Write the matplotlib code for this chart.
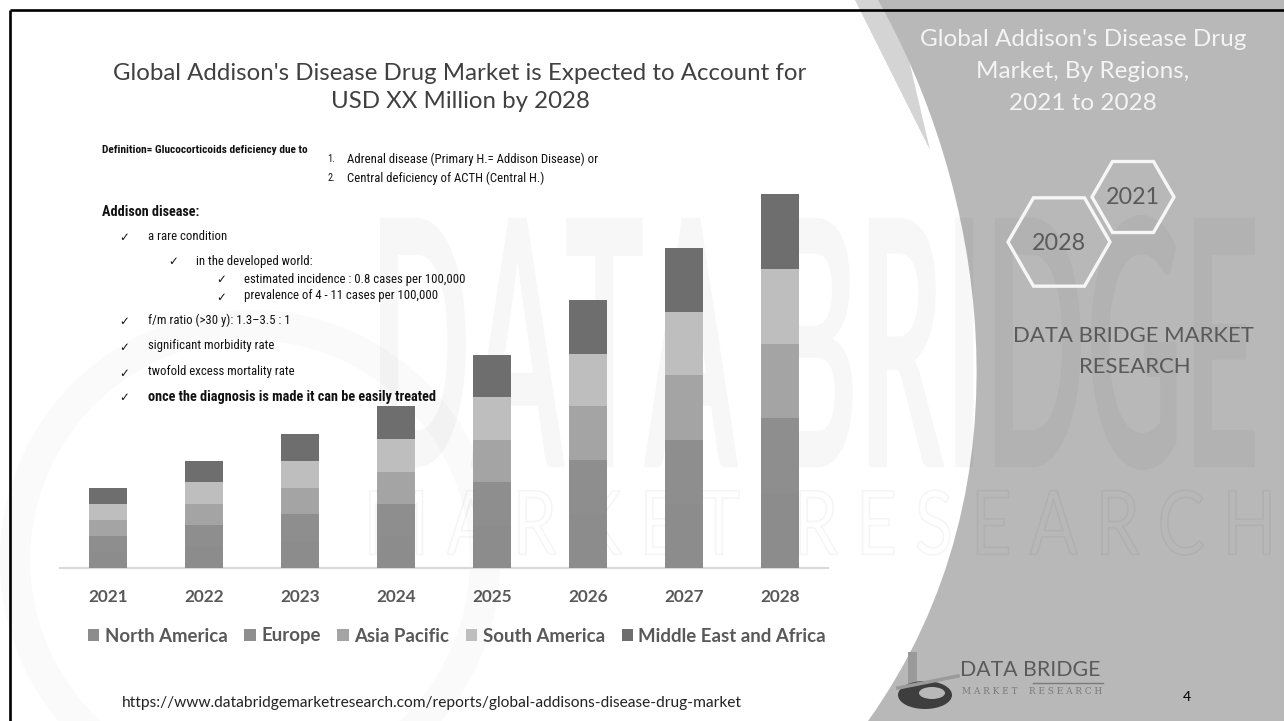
import matplotlib
matplotlib.use('Agg')
import matplotlib.pyplot as plt
from matplotlib import font_manager
from matplotlib.patches import Polygon, RegularPolygon, PathPatch, Rectangle, Ellipse, Circle
from matplotlib.path import Path
from matplotlib.textpath import TextPath
from matplotlib.font_manager import FontProperties
from matplotlib.transforms import Affine2D
import numpy as np

# ---------------- data ----------------
years = ['2021', '2022', '2023', '2024', '2025', '2026', '2027', '2028']
regions = ['North America', 'Europe', 'Asia Pacific', 'South America', 'Middle East and Africa']
north_america = [16, 21.5, 27, 32, 43, 54, 64, 75]
europe = [16, 21.5, 27, 32, 43, 54, 64, 75]
asia_pacific = [16, 21, 26, 32, 42.5, 54, 65, 74]
south_america = [16, 22, 27, 33, 43, 52, 63, 75]
middle_east_africa = [16, 21, 27, 33, 42, 54, 64, 75]
colors = ['#8c8c8c', '#8e8e8e', '#a4a4a4', '#bebebe', '#6e6e6e']

title_lines = ["Global Addison's Disease Drug Market is Expected to Account for",
               "USD XX Million by 2028"]
side_title = ["Global Addison's Disease Drug", "Market, By Regions,", "2021 to 2028"]
url = "https://www.databridgemarketresearch.com/reports/global-addisons-disease-drug-market"

W, H = 1284, 721


def avail(name):
    return any(f.name == name for f in font_manager.fontManager.ttflist)


CAL = 'Lato' if avail('Lato') else 'Open Sans'
NARROW = 'Roboto'
for cand in ['Liberation Sans Narrow', 'Arial Narrow', 'Roboto Condensed', 'Open Sans Condensed', 'Roboto']:
    if avail(cand):
        NARROW = cand
        break

fig = plt.figure(figsize=(W / 100, H / 100), dpi=100)
fig.patch.set_facecolor('white')
renderer = fig.canvas.get_renderer()

bg = fig.add_axes([0, 0, 1, 1])
bg.set_xlim(0, W)
bg.set_ylim(H, 0)
bg.axis('off')
bg.set_zorder(0)


def fit(t, width):
    bb = t.get_window_extent(renderer)
    t.set_fontsize(t.get_fontsize() * width / bb.width)
    return t


def path_shape(s, x0, y0, w, h, family, fc='none', ec='none', alpha=1.0, lw=0, weight='normal', z=2):
    tp = TextPath((0, 0), s, size=100, prop=FontProperties(family=family, weight=weight))
    ext = tp.get_extents()
    tr = Affine2D().translate(-ext.x0, -ext.y0).scale(w / ext.width, -h / ext.height).translate(x0, y0 + h)
    bg.add_patch(PathPatch(tr.transform_path(tp), facecolor=fc, edgecolor=ec, alpha=alpha, lw=lw, zorder=z))


# faint circle swoosh on left
bg.add_patch(Circle((250, 560), 235, facecolor='none', edgecolor='black', alpha=0.02, lw=22, zorder=1))

# light wedge near top of panel
bg.add_patch(Polygon([(855, 0), (895, 0), (930, 150)], closed=True, facecolor='#d4d4d4', lw=0, zorder=1))
# right gray panel
verts = [(878, 0), (980, 180), (1040, 480), (868, 721), (W, H), (W, 0), (878, 0)]
codes = [Path.MOVETO, Path.CURVE4, Path.CURVE4, Path.CURVE4, Path.LINETO, Path.LINETO, Path.CLOSEPOLY]
bg.add_patch(PathPatch(Path(verts, codes), facecolor='#b8b8b8', lw=0, zorder=1.5))

# watermark decoration (background logo shapes)
path_shape('DATA BRIDGE', 380, 215, 875, 255, CAL, fc='black', alpha=0.03, weight='bold')
path_shape('M A R K E T   R E S E A R C H', 370, 490, 900, 65, CAL, ec='black', alpha=0.04, lw=1.2)

# frame
bg.plot([10, W], [10, 10], color='black', lw=1.9, zorder=10, solid_capstyle='butt')
bg.plot([10, 10], [10, H], color='black', lw=1.9, zorder=10, solid_capstyle='butt')

# title
t1 = bg.text(460, 73, title_lines[0], ha='center', va='center', color='#404040', family=CAL, fontsize=16, zorder=5)
fit(t1, 695)
bg.text(460, 102, title_lines[1], ha='center', va='center', color='#404040', family=CAL,
        fontsize=t1.get_fontsize(), zorder=5)

# definition block
dcol = '#111111'
tad = bg.text(102, 212, 'Addison disease:', ha='left', va='center', family=NARROW, weight='bold',
              color=dcol, fontsize=9, zorder=5)
fit(tad, 97)
tdef = bg.text(102, 150, 'Definition= Glucocorticoids deficiency due to', ha='left', va='center',
               family=NARROW, weight='bold', color=dcol, fontsize=9, zorder=5)
fit(tdef, 205)
ref = bg.text(244, 279, 'estimated incidence : 0.8 cases per 100,000', ha='left', va='center',
              family=NARROW, color=dcol, fontsize=9, zorder=5)
fit(ref, 223)
fs = ref.get_fontsize()
bg.text(327, 159, '1.', ha='left', va='center', family=NARROW, color=dcol, fontsize=fs * 0.8, zorder=5)
bg.text(347, 159, 'Adrenal disease (Primary H.= Addison Disease) or', ha='left', va='center',
        family=NARROW, color=dcol, fontsize=fs, zorder=5)
bg.text(327, 178, '2.', ha='left', va='center', family=NARROW, color=dcol, fontsize=fs * 0.8, zorder=5)
bg.text(347, 178, 'Central deficiency of ACTH (Central H.)', ha='left', va='center',
        family=NARROW, color=dcol, fontsize=fs, zorder=5)

items = [
    (119, 148, 237, 'a rare condition', 'normal'),
    (168, 196, 261, 'in the developed world:', 'normal'),
    (216, 244, 279, None, 'normal'),
    (216, 244, 296, 'prevalence of 4 - 11 cases per 100,000', 'normal'),
    (119, 148, 320, 'f/m ratio (>30 y): 1.3\u20133.5 : 1', 'normal'),
    (119, 148, 346, 'significant morbidity rate', 'normal'),
    (119, 148, 372, 'twofold excess mortality rate', 'normal'),
    (119, 148, 397, 'once the diagnosis is made it can be easily treated', 'bold'),
]
for cx, tx, ty, s, wt in items:
    bg.text(cx, ty + 1, '\u2713', ha='left', va='center', family='DejaVu Sans', color=dcol, fontsize=8.5, zorder=5)
    if s is None:
        continue
    t = bg.text(tx, ty, s, ha='left', va='center', family=NARROW, weight=wt, color=dcol, fontsize=fs, zorder=5)
    if wt == 'bold':
        fit(t, 289)

# right panel text
st = bg.text(1083, 40, side_title[0], ha='center', va='center', color='#f4f4f4', family=CAL, fontsize=16, zorder=5)
fit(st, 327)
for i, s in enumerate(side_title[1:]):
    bg.text(1083, 72 + 31 * i, s, ha='center', va='center', color='#f4f4f4', family=CAL,
            fontsize=st.get_fontsize(), zorder=5)

# hexagons
for (cx, cy, r, lab) in [(1133, 197, 41, '2021'), (1059, 242, 51, '2028')]:
    bg.add_patch(RegularPolygon((cx, cy), 6, radius=r, orientation=np.pi / 6, facecolor='none',
                                edgecolor='#f6f6f6', lw=2.4, zorder=4))
    hl = bg.text(cx, cy + 1, lab, ha='center', va='center', color='#5a5a5a', family=CAL, fontsize=16, zorder=5)
    fit(hl, 54)

dbm = bg.text(1133, 336, 'DATA BRIDGE MARKET', ha='center', va='center', color='#5a5a5a', family=CAL,
              fontsize=16, zorder=5)
fit(dbm, 241)
bg.text(1135, 367, 'RESEARCH', ha='center', va='center', color='#5a5a5a', family=CAL,
        fontsize=dbm.get_fontsize(), zorder=5)

# logo
bg.add_patch(Rectangle((908, 652), 9, 40, facecolor='#9a9a9a', lw=0, zorder=4))
bg.add_patch(Ellipse((925, 695), 54, 28, facecolor='#3e3e3e', lw=0, zorder=4))
bg.add_patch(Ellipse((932, 693), 26, 12, facecolor='#b8b8b8', lw=0, zorder=4))
bg.plot([898, 958], [688, 676], color='#9a9a9a', lw=2.5, zorder=4.5)
lg = bg.text(960, 670, 'DATA BRIDGE', ha='left', va='center', color='#5a5a5a', family=CAL, fontsize=14, zorder=5)
fit(lg, 140)
bg.plot([1033, 1103], [683, 683], color='#7a7a7a', lw=1, zorder=5)
ms = bg.text(962, 692, 'M A R K E T    R E S E A R C H', ha='left', va='center', color='#7a7a7a',
             family='DejaVu Serif', fontsize=5, zorder=5)
fit(ms, 141)
bg.text(1187, 697, '4', ha='center', va='center', color='black', family=CAL, fontsize=10, zorder=5)

ut = bg.text(122, 703, url, ha='left', va='center', color='#222222', family=CAL, fontsize=10, zorder=5)
fit(ut, 620)

# ---------------- chart ----------------
ax = fig.add_axes([60 / W, (H - 568) / H, 768 / W, 400 / H])
ax.set_zorder(3)
ax.patch.set_alpha(0)
x = np.arange(len(years))
series = [north_america, europe, asia_pacific, south_america, middle_east_africa]
bottom = np.zeros(len(years))
handles = []
for vals, c in zip(series, colors):
    b = ax.bar(x, vals, bottom=bottom, width=0.4, color=c, lw=0, zorder=3)
    handles.append(b)
    bottom = bottom + np.array(vals)
ax.set_xlim(-0.5, 7.5)
ax.set_ylim(0, 400)
ax.set_yticks([])
for s in ['top', 'right', 'left']:
    ax.spines[s].set_visible(False)
ax.spines['bottom'].set_color('#d9d9d9')
ax.spines['bottom'].set_linewidth(1.6)
ax.set_xticks(x)
ax.set_xticklabels(years, family=CAL, weight='bold', color='#595959', fontsize=13)
ax.tick_params(axis='x', length=0, pad=10)
tl = ax.get_xticklabels()[0]
bb = tl.get_window_extent(renderer)
newfs = 13 * 40 / bb.width
for lab in ax.get_xticklabels():
    lab.set_fontsize(newfs)
bb = ax.get_xticklabels()[0].get_window_extent(renderer)
center_y = H - (bb.y0 + bb.y1) / 2
ax.tick_params(axis='x', pad=10 + (597 - center_y) * 72 / 100)


def make_legend(size):
    return ax.legend(handles, regions, loc='center', bbox_to_anchor=(457 / W, 1 - 636 / H),
                     bbox_transform=fig.transFigure, ncol=5, frameon=False,
                     prop={'family': CAL, 'weight': 'bold', 'size': size}, labelcolor='#595959',
                     handlelength=0.6, handleheight=0.6, handletextpad=0.3, columnspacing=0.9,
                     borderaxespad=0, borderpad=0)


leg = make_legend(14)
wid = leg.get_window_extent(renderer).width
leg.remove()
leg = make_legend(14 * 740 / wid)

fig.savefig('out.png', dpi=100, facecolor='white')
